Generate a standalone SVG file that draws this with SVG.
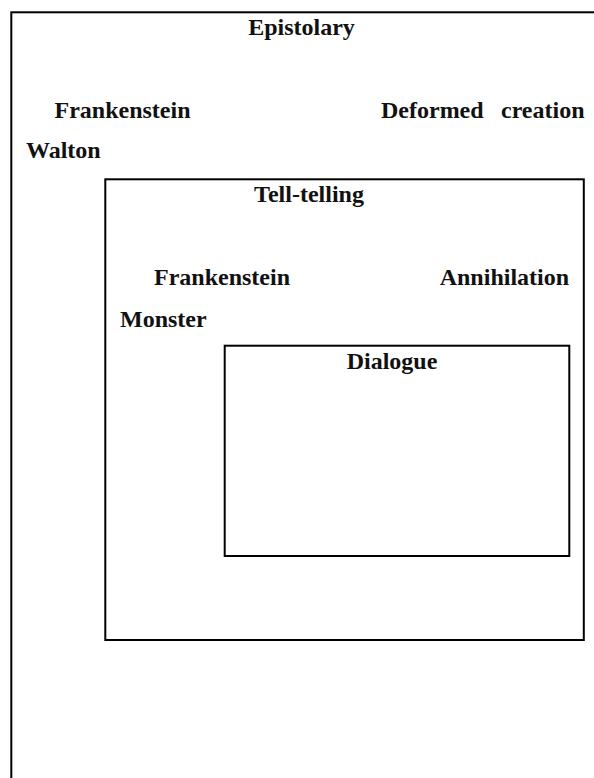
<svg xmlns="http://www.w3.org/2000/svg" width="594" height="778" viewBox="0 0 594 778">
  <style>
    .box { fill: none; stroke: #000; stroke-width: 2; }
    .lbl { font-family: "Liberation Serif", "Times New Roman", serif; font-weight: bold; font-size: 24px; fill: #111; }
    .mid { text-anchor: middle; }
  </style>
  <rect x="0" y="0" width="594" height="778" fill="#fff"/>
  <g id="epistolary">
    <rect class="box" x="11.3" y="12.3" width="640" height="820"/>
    <text class="lbl mid" x="301.5" y="35">Epistolary</text>
    <text class="lbl" x="54.5" y="118">Frankenstein</text>
    <text class="lbl" y="118"><tspan x="381">Deformed</tspan><tspan x="501">creation</tspan></text>
    <text class="lbl" x="26" y="158">Walton</text>
  </g>
  <g id="tell-telling">
    <rect class="box" x="105.3" y="179.3" width="478.5" height="460.7"/>
    <text class="lbl mid" x="309" y="202">Tell-telling</text>
    <text class="lbl" x="154" y="285">Frankenstein</text>
    <text class="lbl" x="439.7" y="285">Annihilation</text>
    <text class="lbl" x="120" y="327">Monster</text>
  </g>
  <g id="dialogue">
    <rect class="box" x="224.7" y="345.7" width="344.6" height="210.3"/>
    <text class="lbl mid" x="392" y="369">Dialogue</text>
  </g>
  <g id="connectors"/>
</svg>
